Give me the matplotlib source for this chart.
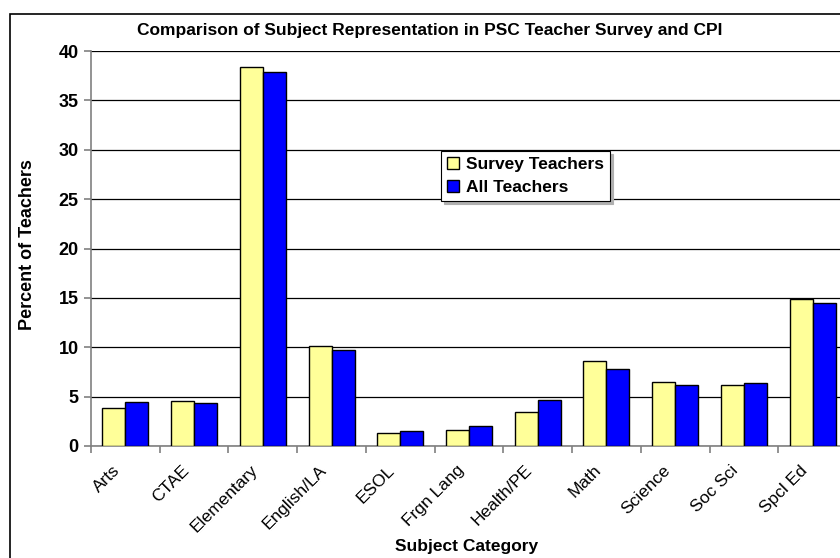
import matplotlib.pyplot as plt
import numpy as np
from matplotlib.patches import Rectangle

plt.rcParams['font.family'] = ['Liberation Sans', 'DejaVu Sans']

categorias = ["Arts", "CTAE", "Elementary", "English/LA", "ESOL", "Frgn Lang",
              "Health/PE", "Math", "Science", "Soc Sci", "Spcl Ed"]
survey = [3.8, 4.6, 38.4, 10.1, 1.3, 1.6, 3.4, 8.6, 6.5, 6.2, 14.9]
todos = [4.5, 4.4, 37.9, 9.7, 1.5, 2.05, 4.7, 7.8, 6.2, 6.4, 14.5]
yticks = [0, 5, 10, 15, 20, 25, 30, 35, 40]

fig = plt.figure(figsize=(8.4, 5.58), dpi=100)
ax = fig.add_axes([91 / 840, 1 - 446 / 558, (847 - 91) / 840, (446 - 51) / 558])

x = np.arange(len(categorias))
w = 0.335
ax.bar(x - w / 2, survey, w, color="#FFFF99", edgecolor="black", linewidth=1,
       label="Survey Teachers", zorder=3)
ax.bar(x + w / 2, todos, w, color="#0000FF", edgecolor="black", linewidth=1,
       label="All Teachers", zorder=3)

ax.set_xlim(-0.5, len(categorias) - 0.5)
ax.set_ylim(0, 40)
ax.set_yticks(yticks)
ax.set_yticklabels([str(v) for v in yticks], fontsize=13, fontweight="bold")
ax.yaxis.grid(True, color="black", linewidth=0.9, zorder=0)

# ticks en los limites de categoria, etiquetas (algo a la izquierda) en el centro
ax.set_xticks(np.arange(len(categorias) + 1) - 0.5)
ax.set_xticklabels([])
ax.set_xticks(x - 0.19, minor=True)
ax.set_xticklabels(categorias, minor=True, rotation=45, ha="right",
                   rotation_mode="anchor", fontsize=12.5)
ax.tick_params(axis="x", which="minor", length=0, pad=12)
ax.tick_params(axis="x", which="major", length=5, color="#808080", width=1.2)
ax.tick_params(axis="y", length=5, color="#808080", width=1.2, pad=4)

for s in ["top", "right"]:
    ax.spines[s].set_visible(False)
ax.spines["left"].set_color("#808080")
ax.spines["left"].set_linewidth(1.2)
ax.spines["bottom"].set_color("#808080")
ax.spines["bottom"].set_linewidth(1.2)

fig.text(28 / 840, 1 - 245 / 558, "Percent of Teachers", fontsize=13,
         fontweight="bold", ha="center", va="center", rotation=90)
fig.text(467 / 840, 1 - 547 / 558, "Subject Category", fontsize=12.5,
         fontweight="bold", ha="center", va="center")
fig.text(430 / 840, 1 - 30 / 558,
         "Comparison of Subject Representation in PSC Teacher Survey and CPI",
         fontsize=12.5, fontweight="bold", ha="center", va="center")

leg = ax.legend(loc="upper left", bbox_to_anchor=((441 - 91) / 756, (446 - 151) / 395),
                prop={"weight": "bold", "size": 12.5}, frameon=True,
                fancybox=False, shadow={"color": "#b0b0b0", "alpha": 1},
                edgecolor="black",
                handlelength=0.7, handleheight=0.7, handletextpad=0.4,
                borderpad=0.35, labelspacing=0.45, borderaxespad=0)
leg.get_frame().set_linewidth(0.8)

fig.patches.append(Rectangle((10 / 840, -0.1), 1.2, 1 - 14 / 558 + 0.1,
                             transform=fig.transFigure, fill=False,
                             edgecolor="black", linewidth=1.2))

fig.savefig("out.png", dpi=100)
